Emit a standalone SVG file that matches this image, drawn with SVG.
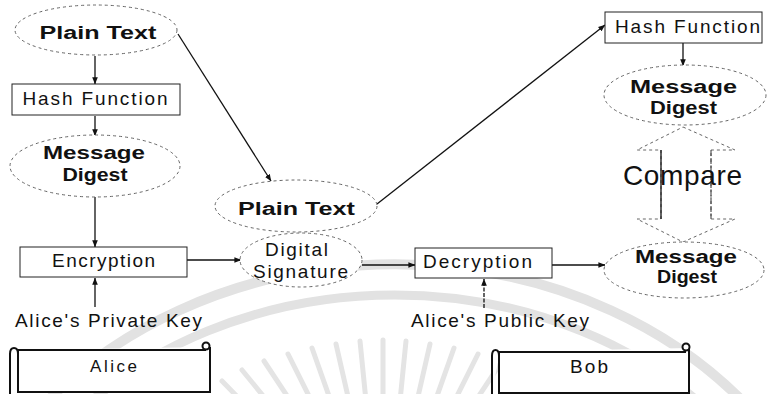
<svg xmlns="http://www.w3.org/2000/svg" width="767" height="394" viewBox="0 0 767 394">
  <defs>
    <marker id="ah" viewBox="0 0 10 10" refX="9.5" refY="5" markerWidth="7" markerHeight="7" orient="auto" markerUnits="userSpaceOnUse">
      <path d="M0,1 L10,5 L0,9 Z" fill="#111"/>
    </marker>
    <style>
      .wm { fill:none; stroke:#e2e2e2; }
      .oval { fill:#fff; stroke:#666; stroke-width:1; stroke-dasharray:3 3; }
      .box { fill:#fff; stroke:#222; stroke-width:1; }
      .scroll { fill:#fff; stroke:#111; stroke-width:2; }
      .t { font-family:"Liberation Sans", Arial, sans-serif; font-size:19px; fill:#111; text-anchor:middle; }
      .b { font-weight:bold; font-size:18px; }
      .conn { fill:none; stroke:#111; stroke-width:1.3; }
      .arr { marker-end:url(#ah); }
    </style>
  </defs>

  <rect width="767" height="394" fill="#fff"/>

  <!-- faint background emblem: two arcs and a fan of rays -->
  <g id="emblem">
    <path class="wm" stroke-width="10" d="M30,420 A450,375 0 0 1 760,420"/>
    <path class="wm" stroke-width="9" d="M71,420 A420,345 0 0 1 718,420"/>
    <g stroke="#e4e4e4" stroke-width="5" stroke-linecap="round">
      <line x1="383" y1="420" x2="383" y2="340"/>
      <line x1="368" y1="421" x2="360" y2="341"/>
      <line x1="398" y1="421" x2="406" y2="341"/>
      <line x1="354" y1="423" x2="336" y2="344"/>
      <line x1="412" y1="423" x2="430" y2="344"/>
      <line x1="340" y1="427" x2="312" y2="348"/>
      <line x1="426" y1="427" x2="454" y2="348"/>
      <line x1="327" y1="432" x2="288" y2="354"/>
      <line x1="439" y1="432" x2="478" y2="354"/>
      <line x1="315" y1="438" x2="264" y2="361"/>
      <line x1="451" y1="438" x2="502" y2="361"/>
      <line x1="304" y1="446" x2="242" y2="370"/>
      <line x1="462" y1="446" x2="524" y2="370"/>
      <line x1="294" y1="455" x2="222" y2="381"/>
      <line x1="472" y1="455" x2="544" y2="381"/>
    </g>
  </g>

  <!-- connectors -->
  <g id="connectors">
    <line class="conn arr" x1="95" y1="56" x2="95" y2="84"/>
    <line class="conn arr" x1="95" y1="116" x2="95" y2="136"/>
    <line class="conn arr" x1="95" y1="197" x2="95" y2="247"/>
    <line class="conn arr" x1="95" y1="307" x2="95" y2="278"/>
    <line class="conn arr" x1="187" y1="260" x2="241" y2="260"/>
    <line class="conn arr" x1="178" y1="34" x2="271" y2="181"/>
    <line class="conn arr" x1="377" y1="204" x2="605" y2="25"/>
    <line class="conn arr" x1="362" y1="265" x2="415" y2="265"/>
    <line class="conn arr" x1="484" y1="308" x2="484" y2="279" stroke-dasharray="4 1.5"/>
    <line class="conn arr" x1="552" y1="265" x2="605" y2="265"/>
    <line class="conn arr" x1="683" y1="43" x2="683" y2="66"/>
  </g>

  <!-- sender side -->
  <g id="plain-text-sender">
    <ellipse class="oval" cx="96" cy="30" rx="81" ry="25"/>
    <text class="t b" x="98" y="39" textLength="117" lengthAdjust="spacingAndGlyphs">Plain Text</text>
  </g>
  <g id="hash-function-sender">
    <rect class="box" x="12" y="84" width="168" height="31"/>
    <text class="t" x="95" y="105" textLength="145">Hash Function</text>
  </g>
  <g id="digest-sender">
    <ellipse class="oval" cx="95" cy="166" rx="85" ry="31"/>
    <text class="t b" x="94" y="159" textLength="102" lengthAdjust="spacingAndGlyphs">Message</text>
    <text class="t b" x="95" y="181" textLength="65" lengthAdjust="spacingAndGlyphs">Digest</text>
  </g>
  <g id="encryption">
    <rect class="box" x="20" y="247" width="167" height="30"/>
    <text class="t" x="103.5" y="267" textLength="103">Encryption</text>
  </g>
  <g id="private-key">
    <text class="t" x="108.5" y="327" textLength="187">Alice's Private Key</text>
  </g>
  <g id="alice">
    <path class="scroll" d="M18,350 H206 M210,347 V392 H18 V350 M18,354 C18,346 10,346 10,354 V394"/>
    <circle cx="206" cy="346" r="3.5" fill="#fff" stroke="#111" stroke-width="2"/>
    <text class="t" x="113.5" y="372" style="font-size:17px" textLength="47">Alice</text>
  </g>

  <!-- message in transit -->
  <g id="plain-text-sent">
    <ellipse class="oval" cx="296" cy="206" rx="81" ry="26"/>
    <text class="t b" x="296.5" y="215" textLength="117" lengthAdjust="spacingAndGlyphs">Plain Text</text>
  </g>
  <g id="digital-signature">
    <ellipse class="oval" cx="301" cy="260" rx="61" ry="27" stroke-dasharray="2 2"/>
    <text class="t" x="296.5" y="256" textLength="63">Digital</text>
    <text class="t" x="300.5" y="278" textLength="95">Signature</text>
  </g>

  <!-- receiver side -->
  <g id="decryption">
    <rect class="box" x="415" y="248" width="137" height="30"/>
    <text class="t" x="477.5" y="268" textLength="109">Decryption</text>
  </g>
  <g id="public-key">
    <text class="t" x="500" y="327" textLength="178">Alice's Public Key</text>
  </g>
  <g id="bob">
    <path class="scroll" d="M499,352 H686 M689,348 V393 H499 V352 M499,356 C499,348 492,348 492,356 V394"/>
    <circle cx="686" cy="347" r="3.5" fill="#fff" stroke="#111" stroke-width="2"/>
    <text class="t" x="589" y="373" textLength="38">Bob</text>
  </g>
  <g id="hash-function-receiver">
    <rect class="box" x="605" y="12" width="157" height="31"/>
    <text class="t" x="687.5" y="33" textLength="145">Hash Function</text>
  </g>
  <g id="digest-recomputed">
    <ellipse class="oval" cx="685" cy="95" rx="81" ry="30"/>
    <text class="t b" x="683.5" y="93" textLength="107" lengthAdjust="spacingAndGlyphs">Message</text>
    <text class="t b" x="683.5" y="114" textLength="67" lengthAdjust="spacingAndGlyphs">Digest</text>
  </g>
  <g id="compare">
    <path d="M683,127 L735,150 H711 V219 H735 L683,242 L637,219 H661 V150 H637 Z" fill="none" stroke="#666" stroke-width="1" stroke-dasharray="3 3"/>
    <line x1="661" y1="150" x2="661" y2="219" stroke="#111" stroke-width="1.3"/>
    <line x1="711" y1="150" x2="711" y2="219" stroke="#333" stroke-width="1" stroke-dasharray="6 2"/>
    <text class="t" x="682.5" y="185" style="font-size:28px" textLength="119">Compare</text>
  </g>
  <g id="digest-decrypted">
    <ellipse class="oval" cx="684" cy="270" rx="80" ry="28"/>
    <text class="t b" x="686" y="263" textLength="102" lengthAdjust="spacingAndGlyphs">Message</text>
    <text class="t b" x="687" y="283" textLength="60" lengthAdjust="spacingAndGlyphs">Digest</text>
  </g>
</svg>
